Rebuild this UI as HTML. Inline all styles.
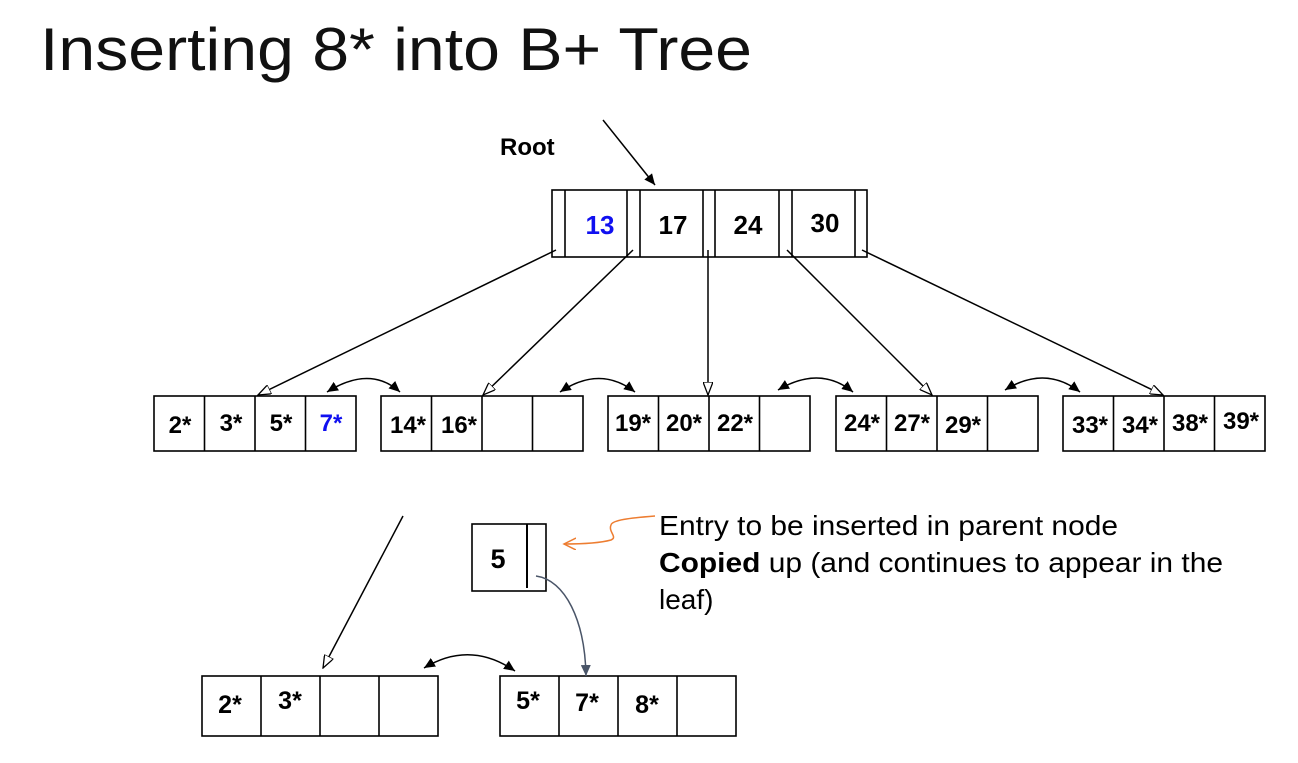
<!DOCTYPE html>
<html><head><style>body{margin:0;background:#fff}</style></head><body>
<svg width="1298" height="758" xmlns="http://www.w3.org/2000/svg" font-family="Liberation Sans, Arial, sans-serif">
<defs>
<marker id="open" markerWidth="14" markerHeight="10" refX="13" refY="5" orient="auto" markerUnits="userSpaceOnUse"><path d="M0,0 L13,5 L0,10 Z" fill="#fff" stroke="#000" stroke-width="1.3"/></marker>
<marker id="fill" markerWidth="12" markerHeight="10" refX="11" refY="5" orient="auto-start-reverse" markerUnits="userSpaceOnUse"><path d="M0,0 L11,5 L0,10 Z" fill="#000"/></marker>
<marker id="gray" markerWidth="12" markerHeight="10" refX="11" refY="5" orient="auto" markerUnits="userSpaceOnUse"><path d="M0,0 L11,5 L0,10 Z" fill="#4a5568"/></marker>
<marker id="orange" markerWidth="14" markerHeight="14" refX="12" refY="6" orient="auto" markerUnits="userSpaceOnUse"><path d="M0,0 L12,6 L0,12" fill="none" stroke="#ed7d31" stroke-width="1.5"/></marker>
</defs>
<text x="40" y="70" font-size="60" textLength="712" lengthAdjust="spacingAndGlyphs" fill="#111">Inserting 8* into B+ Tree</text>
<text x="500" y="155" font-size="24" font-weight="bold">Root</text>
<line x1="603" y1="120" x2="655" y2="185" stroke="#000" stroke-width="1.5" marker-end="url(#fill)"/>
<g stroke="#000" stroke-width="1.6" fill="none">
<rect x="552" y="190" width="315" height="67"/>
<line x1="565" y1="190" x2="565" y2="257"/><line x1="627" y1="190" x2="627" y2="257"/>
<line x1="640" y1="190" x2="640" y2="257"/><line x1="703" y1="190" x2="703" y2="257"/>
<line x1="715" y1="190" x2="715" y2="257"/><line x1="779" y1="190" x2="779" y2="257"/>
<line x1="792" y1="190" x2="792" y2="257"/><line x1="855" y1="190" x2="855" y2="257"/>
</g>
<g font-size="26" font-weight="bold" text-anchor="middle">
<text x="600" y="234" fill="#1010f0">13</text><text x="673" y="234">17</text><text x="748" y="234">24</text><text x="825" y="232">30</text>
</g>
<g stroke="#000" stroke-width="1.5" fill="none" marker-end="url(#open)">
<line x1="556" y1="250" x2="258" y2="395"/>
<line x1="633" y1="250" x2="483" y2="395"/>
<line x1="708" y1="250" x2="708" y2="395"/>
<line x1="787" y1="250" x2="932" y2="395"/>
<line x1="862" y1="250" x2="1163" y2="395"/>
</g>
<g stroke="#000" stroke-width="1.6" fill="none">
<rect x="154" y="396" width="202" height="55"/><line x1="204.5" y1="396" x2="204.5" y2="451"/><line x1="255" y1="396" x2="255" y2="451"/><line x1="305.5" y1="396" x2="305.5" y2="451"/>
<rect x="381" y="396" width="202" height="55"/><line x1="431.5" y1="396" x2="431.5" y2="451"/><line x1="482" y1="396" x2="482" y2="451"/><line x1="532.5" y1="396" x2="532.5" y2="451"/>
<rect x="608" y="396" width="202" height="55"/><line x1="658.5" y1="396" x2="658.5" y2="451"/><line x1="709" y1="396" x2="709" y2="451"/><line x1="759.5" y1="396" x2="759.5" y2="451"/>
<rect x="836" y="396" width="202" height="55"/><line x1="886.5" y1="396" x2="886.5" y2="451"/><line x1="937" y1="396" x2="937" y2="451"/><line x1="987.5" y1="396" x2="987.5" y2="451"/>
<rect x="1063" y="396" width="202" height="55"/><line x1="1113.5" y1="396" x2="1113.5" y2="451"/><line x1="1164" y1="396" x2="1164" y2="451"/><line x1="1214.5" y1="396" x2="1214.5" y2="451"/>
</g>
<g font-size="24" font-weight="bold" text-anchor="middle">
<text x="180" y="433">2*</text><text x="231" y="431">3*</text><text x="281" y="431">5*</text><text x="331" y="431" fill="#1010f0">7*</text>
<text x="408" y="433">14*</text><text x="459" y="433">16*</text>
<text x="633" y="431">19*</text><text x="684" y="431">20*</text><text x="735" y="431">22*</text>
<text x="862" y="431">24*</text><text x="912" y="431">27*</text><text x="963" y="433">29*</text>
<text x="1090" y="433">33*</text><text x="1140" y="433">34*</text><text x="1190" y="431">38*</text><text x="1241" y="429">39*</text>
</g>
<g stroke="#000" stroke-width="1.5" fill="none" marker-start="url(#fill)" marker-end="url(#fill)">
<path d="M327,392 Q370,365 400,392"/>
<path d="M560,392 Q600,365 635,392"/>
<path d="M778,390 Q820,365 853,392"/>
<path d="M1005,390 Q1045,365 1080,392"/>
<path d="M424,668 Q470,640 515,671"/>
</g>
<line x1="403" y1="516" x2="323" y2="668" stroke="#000" stroke-width="1.5" marker-end="url(#open)"/>
<g stroke="#000" stroke-width="1.6" fill="none">
<rect x="472" y="524" width="74" height="67"/><line x1="527" y1="524" x2="527" y2="588" stroke-width="2"/>
<rect x="202" y="676" width="236" height="60"/><line x1="261" y1="676" x2="261" y2="736"/><line x1="320" y1="676" x2="320" y2="736"/><line x1="379" y1="676" x2="379" y2="736"/>
<rect x="500" y="676" width="236" height="60"/><line x1="559" y1="676" x2="559" y2="736"/><line x1="618" y1="676" x2="618" y2="736"/><line x1="677" y1="676" x2="677" y2="736"/>
</g>
<text x="498" y="568" font-size="27" font-weight="bold" text-anchor="middle">5</text>
<g font-size="25" font-weight="bold" text-anchor="middle">
<text x="230" y="713">2*</text><text x="290" y="709">3*</text>
<text x="528" y="709">5*</text><text x="587" y="711">7*</text><text x="647" y="713">8*</text>
</g>
<path d="M536,576 C565,580 585,620 586,676" stroke="#4a5568" stroke-width="1.5" fill="none" marker-end="url(#gray)"/>
<path d="M655,516 C630,518 612,520 611,525 C608,532 618,537 611,540 C600,543 585,544 564,544" stroke="#ed7d31" stroke-width="1.5" fill="none" marker-end="url(#orange)"/>
<g font-size="28">
<text x="659" y="535" textLength="459" lengthAdjust="spacingAndGlyphs">Entry to be inserted in parent node</text>
<text x="659" y="572" textLength="564" lengthAdjust="spacingAndGlyphs"><tspan font-weight="bold">Copied</tspan> up (and continues to appear in the</text>
<text x="659" y="609">leaf)</text>
</g>
</svg>
</body></html>
